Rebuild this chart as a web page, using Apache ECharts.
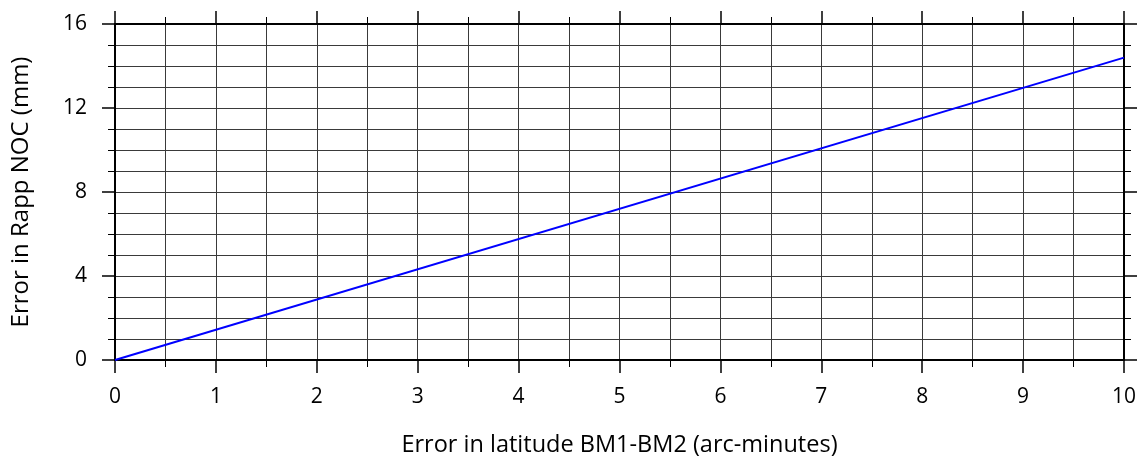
<!DOCTYPE html>
<html>
<head>
<meta charset="utf-8">
<script src="https://cdn.jsdelivr.net/npm/echarts@6/dist/echarts.min.js"></script>
<style>
  html, body { margin: 0; padding: 0; background: #fff; }
  #chart { width: 1148px; height: 462px; }
</style>
</head>
<body>
<div id="chart"></div>
<script>
// Latitude error (arc-minutes) vs. resulting error in Rapp NOC (mm)
const latitudeError = [0, 10];
const rappError = [0, 14.4];

const xTitle = 'Error in latitude BM1-BM2 (arc-minutes)';
const yTitle = 'Error in Rapp NOC (mm)';

const FONT = '"Open Sans", "DejaVu Sans", sans-serif';

const linePoints = latitudeError.map((x, i) => [x, rappError[i]]);

const frameLine = { show: true, onZero: false, lineStyle: { color: '#000', width: 2 } };
const gridLine = { show: true, lineStyle: { color: '#3a3a3a', width: 1 } };

function xAxisDef(position, withLabels) {
  return {
    type: 'value', position, min: 0, max: 10, interval: 1,
    axisLine: frameLine,
    axisTick: { show: true, inside: false, length: 13, lineStyle: { color: '#000', width: 1.5 } },
    minorTick: { show: true, splitNumber: 2, length: 7, lineStyle: { color: '#000', width: 1 } },
    splitLine: { ...gridLine, show: withLabels },
    minorSplitLine: { ...gridLine, show: withLabels },
    axisLabel: { show: withLabels, margin: 27, fontSize: 21, color: '#000', fontFamily: FONT },
    name: withLabels ? xTitle : '',
    nameLocation: 'middle', nameGap: 73,
    nameTextStyle: { fontSize: 23.5, color: '#000', fontFamily: FONT }
  };
}

function yAxisDef(position, withLabels) {
  return {
    type: 'value', position, min: 0, max: 16, interval: 4,
    axisLine: frameLine,
    axisTick: { show: true, inside: false, length: 13, lineStyle: { color: '#000', width: 1.5 } },
    minorTick: { show: true, splitNumber: 4, length: 7, lineStyle: { color: '#000', width: 1 } },
    splitLine: { ...gridLine, show: withLabels },
    minorSplitLine: { ...gridLine, show: withLabels },
    axisLabel: { show: withLabels, margin: 28, fontSize: 21, color: '#000', fontFamily: FONT },
    name: withLabels ? yTitle : '',
    nameLocation: 'middle', nameGap: 82,
    nameTextStyle: { fontSize: 24, color: '#000', fontFamily: FONT }
  };
}

const chart = echarts.init(document.getElementById('chart'), null, { renderer: 'canvas' });
chart.setOption({
  animation: false,
  backgroundColor: '#fff',
  grid: { left: 115, right: 24, top: 24, bottom: 102, containLabel: false },
  xAxis: [xAxisDef('bottom', true), xAxisDef('top', false)],
  yAxis: [yAxisDef('left', true), yAxisDef('right', false)],
  series: [{
    type: 'line',
    data: linePoints,
    xAxisIndex: 0, yAxisIndex: 0,
    showSymbol: false,
    lineStyle: { color: '#0000ff', width: 2 },
    z: 5
  }]
});
</script>
</body>
</html>
